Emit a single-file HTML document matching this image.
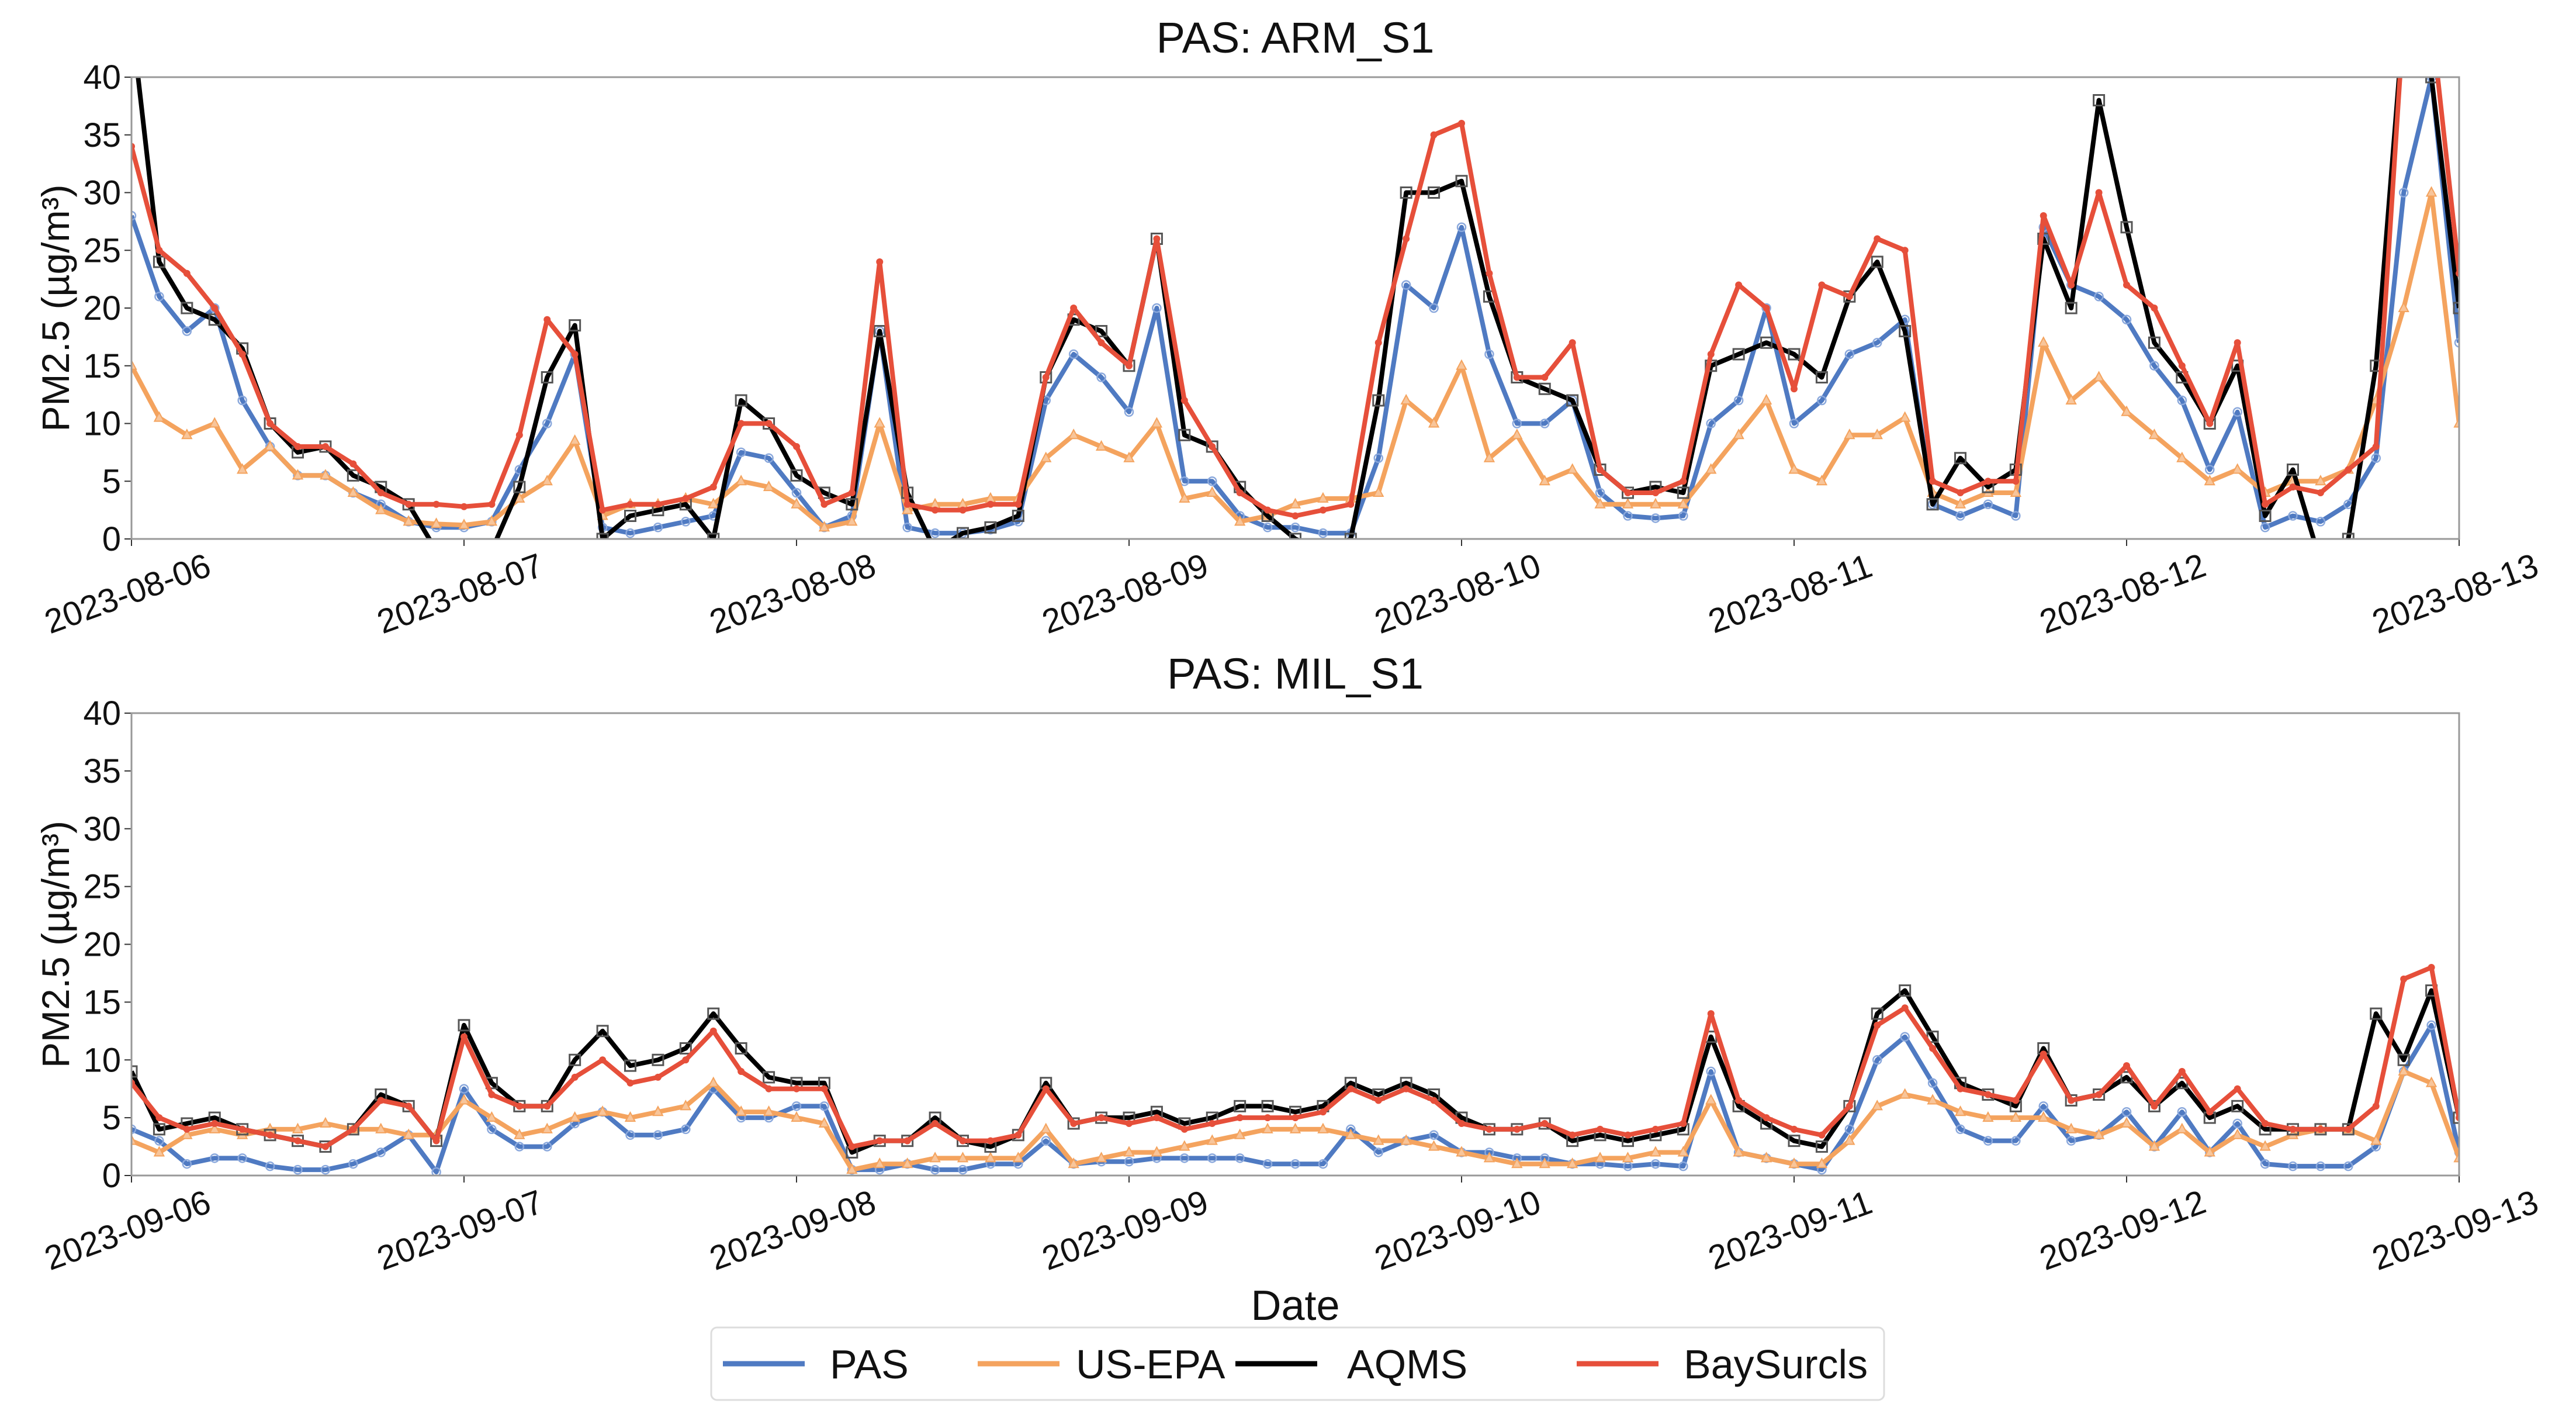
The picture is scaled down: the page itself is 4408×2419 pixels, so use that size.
<!DOCTYPE html>
<html><head><meta charset="utf-8"><style>
html,body{margin:0;padding:0;background:#fff;}
svg{display:block;font-family:"Liberation Sans","DejaVu Sans",sans-serif;}
</style></head><body>
<svg id="chart" width="4408" height="2419" viewBox="0 0 4408 2419" xmlns="http://www.w3.org/2000/svg"></svg>
<script>
const seriesNames = ["PAS","US-EPA","AQMS","BaySurcls"];
const yTicks = [0,5,10,15,20,25,30,35,40];
const topDates = ["2023-08-06","2023-08-07","2023-08-08","2023-08-09","2023-08-10","2023-08-11","2023-08-12","2023-08-13"];
const botDates = ["2023-09-06","2023-09-07","2023-09-08","2023-09-09","2023-09-10","2023-09-11","2023-09-12","2023-09-13"];
const stepHours = 2;
const topPAS = [28,21,18,20,12,8,5.5,5.5,4,3,1.5,1,1,1.5,6,10,16,1,0.5,1,1.5,2,7.5,7,4,1,2,18,1,0.5,0.5,0.8,1.5,12,16,14,11,20,5,5,2,1,1,0.5,0.5,7,22,20,27,16,10,10,12,4,2,1.8,2,10,12,20,10,12,16,17,19,3,2,3,2,27,22,21,19,15,12,6,11,1,2,1.5,3,7,30,40,17];
const topEPA = [15,10.5,9,10,6,8,5.5,5.5,4,2.5,1.5,1.3,1.2,1.5,3.5,5,8.5,2,3,3,3.5,3,5,4.5,3,1,1.5,10,2.5,3,3,3.5,3.5,7,9,8,7,10,3.5,4,1.5,2,3,3.5,3.5,4,12,10,15,7,9,5,6,3,3,3,3,6,9,12,6,5,9,9,10.5,4,3,4,4,17,12,14,11,9,7,5,6,4,5,5,6,12,20,30,10];
const topAQMS = [45,24,20,19,16.5,10,7.5,8,5.5,4.5,3,-1,-1,-1,4.5,14,18.5,0,2,2.5,3,0,12,10,5.5,4,3,18,4,-1,0.5,1,2,14,19,18,15,26,9,8,4.5,2,0,-1,0,12,30,30,31,21,14,13,12,6,4,4.5,4,15,16,17,16,14,21,24,18,3,7,4.5,6,26,20,38,27,17,14,10,15,2,6,-2,0,15,45,40,20];
const topBay = [34,25,23,20,16,10,8,8,6.5,4,3,3,2.8,3,9,19,16,2.5,3,3,3.5,4.5,10,10,8,3,4,24,3,2.5,2.5,3,3,14,20,17,15,26,12,8,4,2.5,2,2.5,3,17,26,35,36,23,14,14,17,6,4,4,5,16,22,20,13,22,21,26,25,5,4,5,5,28,22,30,22,20,15,10,17,3,4.5,4,6,8,45,45,23];
const botPAS = [4,3,1,1.5,1.5,0.8,0.5,0.5,1,2,3.5,0.3,7.5,4,2.5,2.5,4.5,5.5,3.5,3.5,4,7.5,5,5,6,6,0.5,0.5,1,0.5,0.5,1,1,3,1,1.2,1.2,1.5,1.5,1.5,1.5,1,1,1,4,2,3,3.5,2,2,1.5,1.5,1,1,0.8,1,0.8,9,2,1.5,1,0.5,4,10,12,8,4,3,3,6,3,3.5,5.5,2.5,5.5,2,4.5,1,0.8,0.8,0.8,2.5,9,13,2];
const botEPA = [3,2,3.5,4,3.5,4,4,4.5,4,4,3.5,3.5,6.5,5,3.5,4,5,5.5,5,5.5,6,8,5.5,5.5,5,4.5,0.5,1,1,1.5,1.5,1.5,1.5,4,1,1.5,2,2,2.5,3,3.5,4,4,4,3.5,3,3,2.5,2,1.5,1,1,1,1.5,1.5,2,2,6.5,2,1.5,1,1,3,6,7,6.5,5.5,5,5,5,4,3.5,4.5,2.5,4,2,3.5,2.5,3.5,4,4,3,9,8,1.5];
const botAQMS = [9,4,4.5,5,4,3.5,3,2.5,4,7,6,3,13,8,6,6,10,12.5,9.5,10,11,14,11,8.5,8,8,2,3,3,5,3,2.5,3.5,8,4.5,5,5,5.5,4.5,5,6,6,5.5,6,8,7,8,7,5,4,4,4.5,3,3.5,3,3.5,4,12,6,4.5,3,2.5,6,14,16,12,8,7,6,11,6.5,7,8.5,6,8,5,6,4,4,4,4,14,10,16,5];
const botBay = [8,5,4,4.5,4,3.5,3,2.5,4,6.5,6,3,12,7,6,6,8.5,10,8,8.5,10,12.5,9,7.5,7.5,7.5,2.5,3,3,4.5,3,3,3.5,7.5,4.5,5,4.5,5,4,4.5,5,5,5,5.5,7.5,6.5,7.5,6.5,4.5,4,4,4.5,3.5,4,3.5,4,4.5,14,6.5,5,4,3.5,6,13,14.5,11,7.5,7,6.5,10.5,6.5,7,9.5,6,9,5.5,7.5,4.5,4,4,4,6,17,18,5];

const NS="http://www.w3.org/2000/svg";
const svg=document.getElementById('chart');
const colors={"PAS":"#4f7ac2","US-EPA":"#f4a35e","AQMS":"#000000","BaySurcls":"#e64f3a"};
const X0=225,X1=4208;
function mk(tag,attrs,parent){const e=document.createElementNS(NS,tag);for(const k in attrs)e.setAttribute(k,attrs[k]);(parent||svg).appendChild(e);return e;}
function xScale(h){return X0+(h/168)*(X1-X0);}

function panel(id,top,bottom,title,dates,series){
  const g=mk('g',{});
  
  
  const yS=v=>bottom-(v/40)*(bottom-top);
  const cp=mk('clipPath',{id:'clip-'+id},g);
  mk('rect',{x:X0,y:top,width:X1-X0,height:bottom-top},cp);
  const t=mk('text',{x:(X0+X1)/2,y:top-42,'font-size':74,'text-anchor':'middle',fill:'#111'},g);
  t.textContent=title;
  
  
  yTicks.forEach(v=>{
    mk('line',{x1:X0-12,x2:X0,y1:yS(v),y2:yS(v),stroke:'#333','stroke-width':2},g);
    const l=mk('text',{x:X0-18,y:yS(v)+20,'font-size':58,'text-anchor':'end',fill:'#111'},g);
    l.textContent=v;
    
    
  });
  dates.forEach((d,i)=>{
    const x=xScale(i*24);
    mk('line',{x1:x,x2:x,y1:bottom,y2:bottom+12,stroke:'#333','stroke-width':2},g);
    const l=mk('text',{x:0,y:0,'font-size':58,'text-anchor':'middle',fill:'#111',transform:`translate(${x},${bottom+112}) rotate(-20)`},g);
    l.textContent=d;
    
    
  });
  const yl=mk('text',{x:0,y:0,'font-size':66,'text-anchor':'middle',fill:'#111',transform:`translate(${118},${(top+bottom)/2}) rotate(-90)`},g);
  yl.textContent='PM2.5 (µg/m³)';
  
  
  const sg=mk('g',{'clip-path':`url(#clip-${id})`},g);
  series.forEach(([name,vals])=>{
    const c=colors[name];
    const pts=vals.map((v,i)=>[xScale(i*stepHours),yS(v)]);
    const p=mk('polyline',{points:pts.map(q=>q.join(',')).join(' '),fill:'none',stroke:c,'stroke-width':8,'stroke-linejoin':'round'},sg);
    
    
    pts.forEach(q=>{
      let m;
      if(name==='AQMS'){m=mk('rect',{x:q[0]-9,y:q[1]-9,width:18,height:18,fill:'none',stroke:'#555','stroke-width':3},sg);}
      else if(name==='US-EPA'){m=mk('polygon',{points:`${q[0]},${q[1]-9} ${q[0]-8},${q[1]+6} ${q[0]+8},${q[1]+6}`,fill:'#f8c59a',stroke:c,'stroke-width':2},sg);}
      else if(name==='PAS'){m=mk('circle',{cx:q[0],cy:q[1],r:7,fill:'none',stroke:'#8aa8dc','stroke-width':2.5},sg);}
      else {m=mk('circle',{cx:q[0],cy:q[1],r:6,fill:c},sg);}
      
      
    });
  });
  const fr=mk('rect',{x:X0,y:top,width:X1-X0,height:bottom-top,fill:'none',stroke:'#999','stroke-width':3},g);
  
  
}
panel('top',132,922,'PAS: ARM_S1',topDates,[["PAS",topPAS],["US-EPA",topEPA],["AQMS",topAQMS],["BaySurcls",topBay]]);
panel('bottom',1220,2011,'PAS: MIL_S1',botDates,[["PAS",botPAS],["US-EPA",botEPA],["AQMS",botAQMS],["BaySurcls",botBay]]);

const dl=mk('text',{x:(X0+X1)/2,y:2258,'font-size':72,'text-anchor':'middle',fill:'#111'});
dl.textContent='Date';



const lg=mk('g',{});


mk('rect',{x:1217,y:2271,width:2007,height:124,rx:10,fill:'#fff',stroke:'#ddd','stroke-width':3},lg);
const lx=[[1237,1420],[1673,1841],[2114,2305],[2698,2881]];
seriesNames.forEach((n,i)=>{
  const e=mk('g',{},lg);
  
  
  mk('line',{x1:lx[i][0],x2:lx[i][0]+140,y1:2333,y2:2333,stroke:colors[n],'stroke-width':9},e);
  const t=mk('text',{x:lx[i][1],y:2358,'font-size':70,fill:'#111'},e);
  t.textContent=n;
});
</script>
</body></html>
